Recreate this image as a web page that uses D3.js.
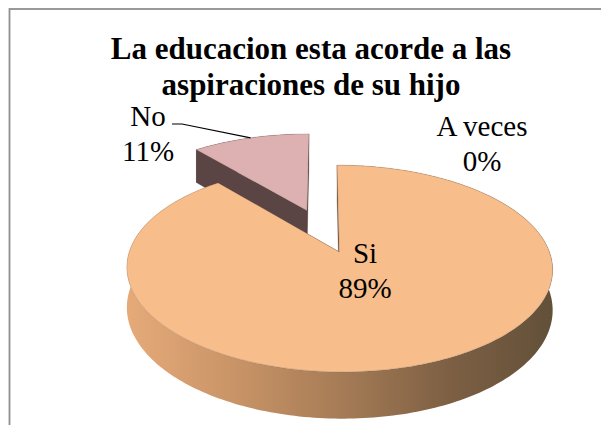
<!DOCTYPE html>
<html>
<head>
<meta charset="utf-8">
<script src="https://cdn.jsdelivr.net/npm/d3@7"></script>
<style>
  html, body { margin: 0; padding: 0; background: #fff; }
  svg { display: block; }
</style>
</head>
<body>
<div id="chart"></div>
<script>
// chart data
const titleLines = ["La educacion esta acorde a las", "aspiraciones de su hijo"];
const categories = ["Si", "No", "A veces"];
const percents = [89, 11, 0];
const topColors = ["#F7BD8B", "#DDB1B2", "#9BBB59"];
const sideColors = ["url(#siSide)", "#5A4444", "#6F8A3C"];

var width = 601, height = 425;
var serif = "Liberation Serif";

// pie geometry (3d look, simple perspective)
var cx = 322.6, cy = 230.5;   // pie centre on screen
var B = 203, A = 94;          // half width / half depth of the disc
var K = 0.154;                // perspective strength
var T = 38;                   // thickness
var E = 0.235;                // explode distance (fraction of radius)

var xs = d3.scaleLinear().domain([-1, 1]).range([cx - B, cx + B]);
var ys = d3.scaleLinear().domain([-1, 1]).range([cy - A, cy + A]);

function proj(u, v, h) {
    var s = 1 / (1 - K * v);
    return [xs(u * s), ys(v * s) + h * T * s];
}

// label anchors (middle of first line)
var labelAt = { "Si": [365, 263], "No": [148, 126], "A veces": [482, 136] };
var lineGap = 35;

var svg = d3.select("#chart").append("svg")
        .attr("width", width)
        .attr("height", height);

var defs = svg.append("defs");
var grad = defs.append("linearGradient")
        .attr("id", "siSide")
        .attr("gradientUnits", "userSpaceOnUse")
        .attr("x1", 127).attr("x2", 553)
        .attr("y1", 0).attr("y2", 0);
[[0, "#E6AA79"], [0.25, "#C99467"], [0.5, "#A67C56"], [0.75, "#7E6044"], [1, "#625039"]]
    .forEach(s => grad.append("stop").attr("offset", s[0]).attr("stop-color", s[1]));

// frame
svg.append("rect")
    .attr("x", 9.5).attr("y", 9)
    .attr("width", 620).attr("height", 440)
    .attr("fill", "none")
    .attr("stroke", "#8f8f8f")
    .attr("stroke-width", 1.8);

// title
svg.append("g").selectAll("text")
    .data(titleLines)
    .enter()
    .append("text")
    .attr("x", 311)
    .attr("y", (d, i) => 59 + i * 36)
    .attr("text-anchor", "middle")
    .attr("font-family", serif)
    .attr("font-size", 31)
    .attr("font-weight", "bold")
    .text(d => d);

var pie = d3.pie()
        .sort(null)
        .value(d => d.value)
        .startAngle(0)
        .endAngle(2 * Math.PI);

var slices = pie(categories.map((c, i) => ({ cat: c, value: percents[i], i: i })));

function offset(d) {
    var mid = (d.startAngle + d.endAngle) / 2;
    return [E * Math.sin(mid), -E * Math.cos(mid)];
}

function rimPt(d, a, h, r) {
    var o = offset(d);
    if (r === undefined) r = 1;
    return proj(o[0] + r * Math.sin(a), o[1] - r * Math.cos(a), h);
}

function angles(d) {
    var n = Math.max(2, Math.ceil((d.endAngle - d.startAngle) / 0.02));
    return d3.range(n + 1).map(k => d.startAngle + (d.endAngle - d.startAngle) * k / n);
}

function topPath(d) {
    var p = d3.path();
    var c = rimPt(d, 0, 0, 0);
    p.moveTo(c[0], c[1]);
    angles(d).forEach(a => { var q = rimPt(d, a, 0); p.lineTo(q[0], q[1]); });
    p.closePath();
    return p.toString();
}

function outerPath(d) {
    var p = d3.path();
    var as = angles(d);
    as.forEach((a, k) => { var q = rimPt(d, a, 0); k ? p.lineTo(q[0], q[1]) : p.moveTo(q[0], q[1]); });
    as.slice().reverse().forEach(a => { var q = rimPt(d, a, 1); p.lineTo(q[0], q[1]); });
    p.closePath();
    return p.toString();
}

function radialPath(d, a) {
    var p = d3.path();
    var c0 = rimPt(d, 0, 0, 0), c1 = rimPt(d, 0, 1, 0);
    var r0 = rimPt(d, a, 0), r1 = rimPt(d, a, 1);
    p.moveTo(c0[0], c0[1]);
    p.lineTo(r0[0], r0[1]);
    p.lineTo(r1[0], r1[1]);
    p.lineTo(c1[0], c1[1]);
    p.closePath();
    return p.toString();
}

// back slices first
var drawn = slices.filter(d => d.value > 0)
        .sort((a, b) => offset(a)[1] - offset(b)[1]);

var g = svg.selectAll(".slice")
        .data(drawn)
        .enter()
        .append("g")
        .attr("class", "slice");

g.append("path")
    .attr("d", d => outerPath(d))
    .style("fill", d => sideColors[d.data.i]);
g.append("path")
    .attr("d", d => radialPath(d, d.startAngle))
    .style("fill", d => d.data.i === 0 ? "#7A5B40" : sideColors[d.data.i])
    .style("stroke", "rgba(80,60,55,0.4)")
    .style("stroke-width", 0.6);
g.append("path")
    .attr("d", d => radialPath(d, d.endAngle))
    .style("fill", d => d.data.i === 0 ? "#7A5B40" : sideColors[d.data.i])
    .style("stroke", "rgba(80,60,55,0.4)")
    .style("stroke-width", 0.6);
g.append("path")
    .attr("d", d => topPath(d))
    .style("fill", d => topColors[d.data.i])
    .style("stroke", "rgba(110,85,70,0.35)")
    .style("stroke-width", 0.7);

// leader line for "No"
var noSlice = slices[1];
var leaderEnd = rimPt(noSlice, (noSlice.startAngle + noSlice.endAngle) / 2, 0);
svg.append("path")
    .attr("d", d3.line()([[172, 124], [182, 124], leaderEnd]))
    .attr("fill", "none")
    .attr("stroke", "#000")
    .attr("stroke-width", 1.2);

// data labels
var labels = svg.selectAll(".lbl")
        .data(slices)
        .enter()
        .append("text")
        .attr("class", "lbl")
        .attr("text-anchor", "middle")
        .attr("font-family", serif)
        .attr("font-size", 29)
        .attr("fill", "#000");
labels.append("tspan")
    .attr("x", d => labelAt[d.data.cat][0])
    .attr("y", d => labelAt[d.data.cat][1])
    .text(d => d.data.cat);
labels.append("tspan")
    .attr("x", d => labelAt[d.data.cat][0])
    .attr("y", d => labelAt[d.data.cat][1] + lineGap)
    .text(d => d.data.value + "%");
</script>
</body>
</html>
